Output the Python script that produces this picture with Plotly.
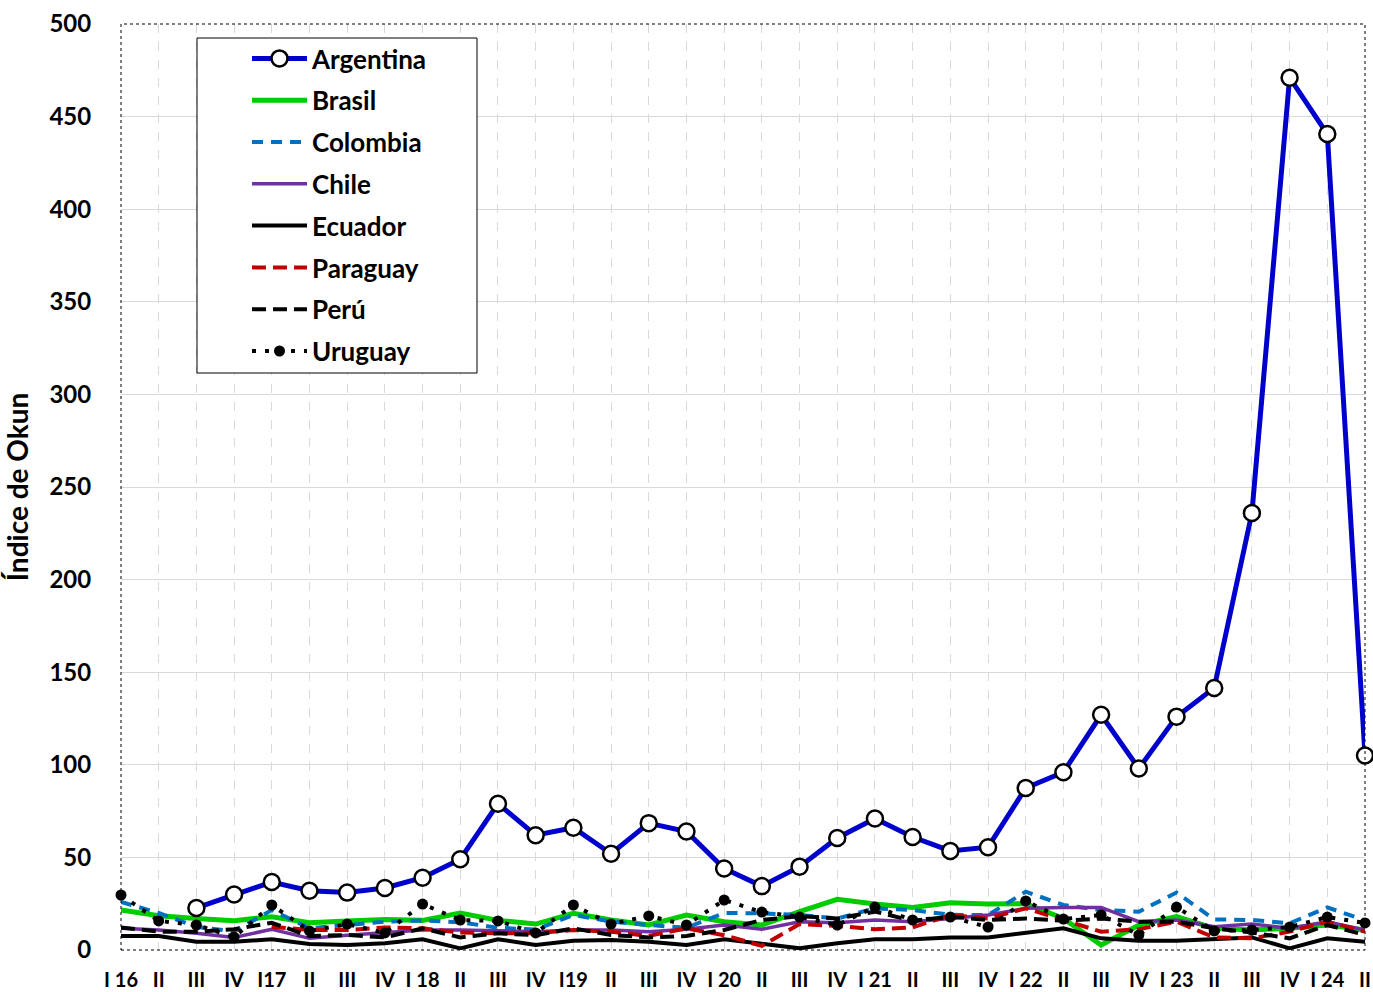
import plotly.graph_objects as go

quarters = ["I 16", "II", "III", "IV", "I17", "II", "III", "IV", "I 18", "II", "III", "IV",
            "I19", "II", "III", "IV", "I 20", "II", "III", "IV", "I 21", "II", "III", "IV",
            "I 22", "II", "III", "IV", "I 23", "II", "III", "IV", "I 24", "II"]

argentina = [None, None, 22.7, 30, 36.7, 32, 31, 33.5, 39, 49, 79, 62,
             66, 52, 68.5, 64, 44, 34.5, 45, 60.5, 71, 61, 53.5, 55.5,
             87.5, 96, 127, 98, 126, 141.5, 236, 471, 440.6, 105]
brasil = [21.6, 18.5, 17, 15.8, 18, 14.7, 15.6, 16.5, 16, 20, 16, 14,
          19.8, 16.2, 13.5, 18.9, 15.3, 13.5, 20.7, 27.4, 24.8, 23, 25.5, 24.8,
          25, 17, 2.7, 13.5, 18, 11.7, 10.8, 11.7, 13.5, 10.8]
colombia = [26, 20, 12.5, 10, 21.6, 11.7, 13.5, 15.3, 16, 15, 12, 11,
            18.9, 15.3, 13.5, 12, 20, 19.8, 18.9, 17, 22.5, 21.6, 19, 18.9,
            31.5, 24.3, 21.6, 20.7, 31, 16.5, 16.2, 14.4, 23, 16]
chile = [11.7, 10.8, 9, 6.8, 11.2, 6.3, 8, 9.4, 10.8, 10.8, 10.4, 9.9,
         10.8, 10.8, 9.9, 11.2, 13.5, 11.2, 15.3, 14.7, 16.2, 15.3, 17, 18.9,
         22.5, 23, 23, 15.3, 16.2, 12.6, 14, 11.7, 15.3, 10.8]
ecuador = [7.6, 7.6, 4.5, 4.5, 5.8, 3.2, 2.7, 3.6, 5.8, 0.9, 5.8, 2.7,
           5, 5.4, 4.5, 2.7, 5.8, 3.2, 0.9, 3.6, 5.8, 5.8, 6.8, 6.8,
           9, 11.7, 6.3, 5, 5, 5.8, 6.8, 0.9, 6.3, 4.5]
paraguay = [None, None, None, None, 12.6, 10.8, 10.8, 12.2, 11.7, 9.4, 9, 9,
            10.8, 9.9, 7.6, 11.7, 8, 2.2, 14, 13, 11.2, 12.2, 18.9, 17,
            22.5, 16.2, 9.9, 11.2, 15.3, 6.8, 6.3, 9.9, 15.3, 9.9]
peru = [12.2, 9.9, 9.9, 11.2, 14.7, 7.6, 8.1, 6.8, 11.7, 6.8, 9, 8,
        11.7, 8.1, 6.8, 7.6, 10.8, 16.2, 18.3, 17, 20.7, 15.8, 18, 16.2,
        17, 15.8, 17, 15.3, 15.3, 11.7, 9.4, 6.3, 13.5, 8.1]
uruguay = [29.7, 15.7, 13.5, 7, 24.3, 10.3, 14, 9.2, 24.8, 16.2, 15.7, 9.2,
           24.3, 14, 18.4, 13.5, 27, 20.5, 17.8, 13.5, 23.2, 16.2, 17.8, 12.4,
           26.5, 16.7, 18.9, 8.1, 23.2, 10.3, 10.8, 12.4, 17.8, 14.6]

x = list(range(len(quarters)))

fig = go.Figure()

series = [
    ("Argentina", argentina, dict(color="#0000CC", width=5), "lines+markers",
     dict(symbol="circle", size=16, color="white", line=dict(color="black", width=2.5))),
    ("Brasil", brasil, dict(color="#00CC00", width=5), "lines", None),
    ("Colombia", colombia, dict(color="#0070C0", width=4, dash="11px,8px"), "lines", None),
    ("Chile", chile, dict(color="#7030A0", width=3.5), "lines", None),
    ("Ecuador", ecuador, dict(color="black", width=4), "lines", None),
    ("Paraguay", paraguay, dict(color="#C00000", width=4, dash="14px,7px"), "lines", None),
    ("Perú", peru, dict(color="black", width=4, dash="14px,7px"), "lines", None),
    ("Uruguay", uruguay, dict(color="black", width=4, dash="4px,9px"), "lines+markers",
     dict(symbol="circle", size=11, color="black")),
]

traces = []
for i, (name, vals, line, mode, marker) in enumerate(series):
    kw = dict(x=x, y=vals, name=name, mode=mode, line=line, cliponaxis=False,
              legendgroup=name, legendrank=i + 1, connectgaps=False)
    if marker:
        kw["marker"] = marker
    traces.append(go.Scatter(**kw))

# small series first, Argentina on top
for t in traces[1:]:
    fig.add_trace(t)
fig.add_trace(traces[0])

L, R, T, B = 121, 8, 24, 42
W, H = 1373, 992
pw, ph = W - L - R, H - T - B

def px_x(p):
    return (p - L) / pw

def px_y(p):
    return (H - B - p) / ph

fig.update_layout(
    width=W, height=H,
    paper_bgcolor="white", plot_bgcolor="white",
    margin=dict(l=L, r=R, t=T, b=B, autoexpand=False),
    showlegend=True,
    legend=dict(
        x=px_x(247), y=px_y(35), xanchor="left", yanchor="top",
        bgcolor="rgba(0,0,0,0)", borderwidth=0,
        font=dict(family="Lato", size=26, color="black", weight="bold"),
        itemwidth=55, tracegroupgap=5, traceorder="grouped",
    ),
    xaxis=dict(
        range=[0, 33], tickmode="array", tickvals=x, ticktext=quarters,
        showgrid=True, gridcolor="#d9d9d9", griddash="dash", gridwidth=1,
        zeroline=False, showline=False, automargin=False,
        ticks="outside", ticklen=12, tickcolor="rgba(0,0,0,0)",
        tickfont=dict(family="Lato", size=20, color="black", weight="bold"),
    ),
    yaxis=dict(
        range=[0, 500], dtick=50, showgrid=True, gridcolor="#d9d9d9", gridwidth=1,
        zeroline=False, showline=False, automargin=False,
        ticks="outside", ticklen=24, tickcolor="rgba(0,0,0,0)",
        tickfont=dict(family="Lato", size=24, color="black", weight="bold"),
        title=dict(text="Índice de Okun", standoff=16,
                   font=dict(family="Lato", size=28, color="black", weight="bold")),
    ),
    shapes=[
        dict(type="rect", xref="paper", yref="paper", x0=0, y0=0, x1=1, y1=1,
             line=dict(color="black", width=1, dash="dot"), layer="above"),
        dict(type="rect", xref="paper", yref="paper",
             x0=px_x(197), x1=px_x(477), y0=px_y(373), y1=px_y(38),
             line=dict(color="black", width=1), fillcolor="white", layer="above"),
    ],
)

fig.write_html("out.html", config={"displayModeBar": False},
               post_script="document.body.style.margin='0';document.body.style.overflow='hidden';")
